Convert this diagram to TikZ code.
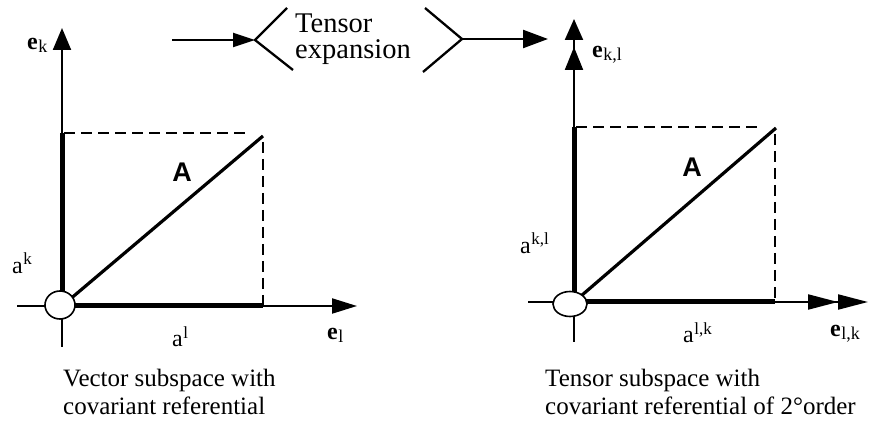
\documentclass[tikz,border=0pt]{standalone}
\usepackage{fontspec}
\setmainfont{Liberation Serif}
\setsansfont{Liberation Sans}
\usepackage{tikz}
\usetikzlibrary{arrows.meta}

% index labels: a with raised index, bold e with lowered index
\newcommand{\upidx}[2]{#1\kern0.5pt\raisebox{9pt}{\fontsize{17}{17}\selectfont #2}}
\newcommand{\lowidx}[2]{\textbf{#1}\kern0.5pt\raisebox{-3pt}{\fontsize{18}{18}\selectfont #2}}

\begin{document}
\begin{tikzpicture}[
  x=1pt, y=-1pt,
  axis/.style    = {line width=2.1pt, -{Triangle[length=22pt, width=18pt]}},
  haxis/.style   = {line width=2.1pt, -{Triangle[length=25pt, width=15pt]}},
  vaxis2/.style  = {line width=2.1pt,
                    -{Triangle[length=23pt, width=18pt, sep=7pt] Triangle[length=21pt, width=18pt]}},
  haxis2/.style  = {line width=2.1pt,
                    -{Triangle[length=30pt, width=15pt, sep=0pt] Triangle[length=30pt, width=15pt]}},
  comp/.style    = {line width=5pt},
  guide/.style   = {line width=1.6pt, dash pattern=on 11pt off 6pt},
  vec/.style     = {line width=3.2pt},
  orig/.style    = {draw, line width=1.6pt, fill=white},
  arr/.style     = {line width=2.3pt, -{Triangle[length=22pt, width=14pt]}},
  chev/.style    = {line width=2.3pt},
  lbl/.style     = {font=\fontsize{24}{24}\selectfont, inner sep=0pt, anchor=base west},
  vname/.style   = {font=\fontsize{27}{27}\sffamily\bfseries, inner sep=0pt},
  caption/.style = {font=\fontsize{25}{28}\selectfont,
                    align=left, inner sep=0pt, anchor=north west}
]
\useasboundingbox (0,0) rectangle (883,427);

% ── Left: vector subspace ────────────────────────────────────────────────────
\coordinate (o1) at (62,306);
\coordinate (p1) at (263,136);
\draw[haxis] (17,306) -- (357,306);
\draw[axis]  (62,347) -- (62,28);
\draw[comp]  (o1) -- (263,306);
\draw[comp]  (o1) -- (62,133);
\draw[guide] (64,133) -- (245,133);
\draw[guide] (263,142) -- (263,306);
\draw[vec]   (o1) -- (p1);
\draw[orig]  (60,305) ellipse [x radius=15, y radius=14];

\node[lbl] (ek1) at (27,50)   {\lowidx{e}{k}};
\node[lbl] (el1) at (327,340) {\lowidx{e}{l}};
\node[lbl] (ak1) at (12,274)  {\upidx{a}{k}};
\node[lbl] (al1) at (172,347) {\upidx{a}{l}};
\node[vname] (A1) at (182,172) {A};

% ── Middle: tensor expansion ─────────────────────────────────────────────────
\coordinate (tin)  at (172,40);
\coordinate (tlt)  at (255,40);
\coordinate (tgt)  at (462,39);
\coordinate (tout) at (548,39);
\draw[arr]  (tin) -- (tlt);
\draw[chev] (287,8) -- (tlt) -- (293,70);
\draw[chev] (425,8) -- (tgt) -- (423,72);
\draw[arr, -{Triangle[length=25pt, width=18pt]}] (tgt) -- (tout);
\node[caption, font=\fontsize{28.5}{26}\selectfont] (tens) at (295,14) {Tensor\\expansion};

% ── Right: tensor subspace ───────────────────────────────────────────────────
\coordinate (o2) at (574,302);
\coordinate (p2) at (776,128);
\draw[haxis2] (528,302) -- (868,302);
\draw[vaxis2] (574,342) -- (574,19);
\draw[comp]   (o2) -- (775,302);
\draw[comp]   (o2) -- (574,127);
\draw[guide]  (576,127) -- (757,127);
\draw[guide]  (775,134) -- (775,302);
\draw[vec]    (o2) -- (p2);
\draw[orig]   (570,304) ellipse [x radius=17, y radius=12.5];

\node[lbl] (ek2) at (592,58)  {\lowidx{e}{k,l}};
\node[lbl] (el2) at (830,337) {\lowidx{e}{l,k}};
\node[lbl] (ak2) at (520,254) {\upidx{a}{k,l}};
\node[lbl] (al2) at (683,343) {\upidx{a}{l,k}};
\node[vname] (A2) at (692,167) {A};

% ── Captions ─────────────────────────────────────────────────────────────────
\node[caption] (cap1) at (63,369)  {Vector subspace with\\covariant referential};
\node[caption] (cap2) at (545,369) {Tensor subspace with\\covariant referential of 2°order};
\end{tikzpicture}
\end{document}
